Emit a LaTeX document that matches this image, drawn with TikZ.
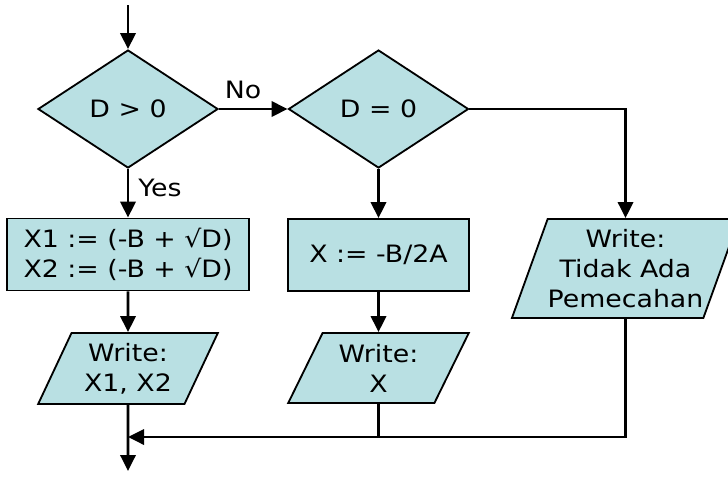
\documentclass[tikz,border=0pt]{standalone}
\usepackage{fontspec}
\setmainfont{DejaVu Sans}[FakeStretch=1.12]
\usepackage{tikz}
\usetikzlibrary{positioning,shapes.geometric,arrows.meta,calc}
\definecolor{boxfill}{HTML}{B9E0E3}

\begin{document}
\begin{tikzpicture}[x=0.025cm,y=-0.025cm,
    every node/.style={font=\fontsize{17pt}{21.3pt}\selectfont},
    decision/.style={diamond,draw,fill=boxfill,line width=1.3pt,inner sep=0pt,
        minimum width=4.5cm,minimum height=2.95cm},
    process/.style={rectangle,draw,fill=boxfill,line width=1.3pt,align=center,
        minimum height=1.8cm},
    output/.style={trapezium,trapezium left angle=63,trapezium right angle=117,
        trapezium stretches=true,draw,fill=boxfill,line width=1.3pt,align=center,
        inner sep=0pt},
    flow/.style={line width=2pt,-{Triangle[length=0.4cm,width=0.38cm]}},
    link/.style={line width=2pt}]
\useasboundingbox (0,0) rectangle (728,476);

\coordinate (start) at (128,5);
\node[decision] (pos) at (128,109) {D > 0};
\node[decision] (zero) at (378.5,109) {D = 0};

\node[process,minimum width=6.05cm] (twoRoots) at (128,254.5) {X1 := (-B + √D)\\X2 := (-B + √D)};
\node[process,minimum width=4.525cm] (oneRoot) at (378.5,255) {X := -B/2A};

\node[output,minimum width=4.525cm,minimum height=1.775cm] (writeTwo) at (128,368.5) {Write:\\X1, X2};
\node[output,minimum width=4.525cm,minimum height=1.75cm] (writeOne) at (378.5,368) {Write:\\X};
\node[output,trapezium left angle=65.5,trapezium right angle=114.5,
    minimum width=5.625cm,minimum height=2.475cm] (writeNone) at (625.5,268.5) {Write:\\Tidak Ada\\Pemecahan};

\coordinate (join) at (128,437);
\coordinate (stop) at (128,471);

\draw[flow] (start) -- (pos.north);
\draw[flow] (pos.east) -- node[above=3pt,pos=0.35] {No} (zero.west);
\draw[flow] (pos.south) -- node[right=3pt,pos=0.4] {Yes} (twoRoots.north);
\draw[flow] (zero.south) -- (oneRoot.north);
\draw[flow] (zero.east) -| (writeNone.north);
\draw[flow] (twoRoots.south) -- (writeTwo.north);
\draw[flow] (oneRoot.south) -- (writeOne.north);
\draw[flow] (writeNone.south) |- (join);
\draw[link] (writeOne.south) -- (writeOne.south |- join);
\draw[flow] (writeTwo.south) -- (stop);
\end{tikzpicture}
\end{document}
